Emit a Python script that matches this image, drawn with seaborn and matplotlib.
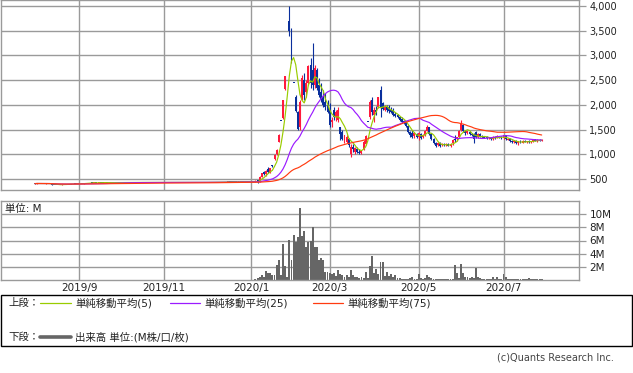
import numpy as np
import pandas as pd
import matplotlib
matplotlib.use("Agg")
import matplotlib.pyplot as plt
import seaborn as sns
from matplotlib.ticker import FuncFormatter
from matplotlib.patches import Rectangle
from matplotlib.lines import Line2D

sns.set_style("white")
plt.rcParams['font.family'] = ['DejaVu Sans', 'Noto Sans CJK JP']

# ---------------- data (daily, trading days 2019-08-01 .. 2020-07-29) ----------------
opens = [
    # Aug 2019
    415,405,410,405,405,405,405,405,395,385,385,385,385,385,390,390,395,395,398,400,400,
    # Sep
    402,405,405,410,420,418,420,420,422,420,425,425,423,425,425,428,425,425,425,
    # Oct
    428,428,428,428,430,428,425,432,430,430,428,428,430,430,430,428,430,430,430,432,430,
    # Nov
    430,430,430,432,430,430,430,432,435,428,430,428,430,430,432,430,430,430,432,432,
    # Dec
    430,432,435,435,435,436,435,435,438,440,440,445,445,445,442,442,445,445,445,446,445,
    # Jan 2020
    440,440,445,470,440,540,640,600,700,640,770,900,1000,1250,1690,1730,2320,3090,3700,
    # Feb
    3400,2450,2150,1850,1550,2100,2500,2250,2450,2800,2700,2400,2700,2400,2250,2150,2050,2000,
    # Mar
    1900,1650,1900,1750,1700,1550,1450,1250,1240,1300,1000,1150,1050,1100,1050,1030,1100,1200,1660,1750,2100,
    # Apr
    1800,1900,1950,2300,2040,1900,1950,1950,1900,1900,1820,1800,1750,1720,1680,1650,1580,1450,1420,1360,1400,
    # May
    1340,1400,1350,1380,1480,1550,1400,1300,1230,1180,1220,1180,1200,1180,1200,1170,1220,1300,
    # Jun
    1300,1350,1500,1600,1480,1420,1450,1400,1400,1450,1350,1400,1360,1350,1340,1320,1330,1300,1340,1330,1360,1340,
    # Jul
    1320,1380,1300,1310,1260,1250,1270,1220,1260,1230,1270,1250,1260,1240,1260,1300,1270,1290,1270,
]
highs = [
    415,410,410,405,405,408,405,405,395,385,385,385,385,388,390,392,395,395,400,400,402,
    405,405,410,420,420,420,420,422,422,425,425,425,425,425,428,428,425,425,428,
    428,428,428,430,430,428,435,432,430,430,428,430,430,430,430,430,430,430,432,432,430,
    430,430,432,432,430,430,432,432,435,430,430,430,430,432,432,430,430,432,432,432,
    432,435,435,435,436,436,435,438,440,440,455,445,445,445,442,445,445,445,446,446,445,
    445,450,470,480,550,630,660,680,740,730,780,1000,1100,1400,1690,2100,2590,3090,4000,
    3550,2450,2200,1870,2100,2600,2650,2500,2800,2950,3250,2800,2750,2550,2450,2300,2240,2100,
    2040,1750,1950,1900,1960,1560,1500,1390,1380,1320,1200,1200,1150,1150,1100,1080,1290,1380,1660,2100,2150,
    1950,1980,2160,2380,2060,2000,2000,2000,1950,1935,1850,1820,1760,1750,1700,1670,1600,1480,1490,1450,1420,
    1450,1420,1400,1500,1600,1560,1420,1320,1250,1250,1240,1220,1230,1220,1220,1230,1300,1390,
    1350,1500,1690,1620,1500,1480,1470,1430,1420,1480,1420,1430,1380,1370,1360,1350,1350,1370,1360,1380,1370,1360,
    1390,1390,1330,1320,1290,1280,1290,1270,1290,1280,1280,1270,1280,1270,1310,1310,1300,1310,1300,
]
lows = [
    405,405,408,405,405,405,405,405,385,385,380,385,385,385,390,390,395,395,398,400,400,
    402,405,405,410,418,418,420,420,420,420,425,423,423,425,425,425,425,425,425,
    428,428,428,428,428,428,425,430,430,428,428,428,430,430,428,428,430,430,430,430,430,
    430,430,430,430,430,430,430,430,428,428,428,428,430,430,430,430,430,430,432,430,
    430,432,435,435,435,435,435,435,438,440,440,445,445,442,442,442,445,445,445,445,445,
    435,438,440,420,435,530,570,560,620,630,750,880,980,1240,1690,1720,2300,3090,3400,
    2850,2450,1850,1490,1500,2090,2100,2150,2400,2350,2300,2350,2300,2150,2050,1950,1900,1830,
    1550,1550,1700,1680,1650,1290,1280,1230,1230,1150,940,1050,1000,1030,1000,1000,1080,1180,1660,1720,1800,
    1650,1800,1930,1760,1900,1880,1850,1840,1830,1780,1760,1740,1680,1640,1620,1560,1430,1350,1330,1330,1320,
    1290,1300,1320,1360,1460,1380,1280,1200,1150,1160,1150,1160,1160,1160,1160,1150,1190,1250,
    1270,1340,1480,1450,1390,1400,1390,1360,1230,1330,1330,1340,1330,1320,1300,1300,1290,1290,1310,1320,1320,1300,
    1310,1280,1280,1240,1230,1230,1200,1190,1220,1220,1240,1230,1230,1230,1250,1260,1250,1260,1260,
]
closes = [
    405,410,408,405,405,408,405,405,385,385,380,385,385,388,390,392,395,395,400,400,402,
    405,405,410,420,418,420,420,422,420,425,425,423,425,425,428,425,425,425,428,
    428,428,428,430,428,428,432,430,430,428,428,430,430,430,428,430,430,430,432,430,430,
    430,430,432,430,430,430,432,430,428,430,428,430,430,432,430,430,430,432,432,430,
    432,435,435,435,436,435,435,438,440,440,445,445,445,442,442,445,445,445,446,445,445,
    440,445,455,430,540,610,590,660,640,720,760,990,1090,1390,1690,2090,2590,3090,3500,
    3150,2450,1870,1520,2050,2550,2200,2450,2780,2450,2400,2750,2350,2200,2100,2000,1950,1850,
    1600,1700,1750,1850,1900,1400,1300,1380,1350,1180,1150,1100,1120,1050,1030,1060,1250,1360,1660,2050,1850,
    1900,1850,2150,1950,1920,1950,1900,1880,1850,1800,1780,1760,1700,1660,1650,1580,1450,1380,1350,1420,1340,
    1430,1320,1380,1480,1560,1400,1300,1220,1170,1230,1170,1200,1180,1200,1170,1210,1280,1280,
    1340,1480,1640,1480,1420,1460,1400,1380,1300,1350,1400,1360,1350,1340,1320,1340,1300,1350,1330,1370,1340,1320,
    1380,1300,1310,1260,1250,1270,1220,1260,1230,1270,1250,1260,1240,1260,1300,1270,1290,1270,1290,
]
volumes_m = [
    0.05,0.02,0.03,0.01,0.01,0.02,0.01,0.01,0.06,0.01,0.03,0.01,0.01,0.02,0.01,0.02,0.01,0.01,0.03,0.01,0.02,
    0.02,0.01,0.03,0.05,0.02,0.02,0.01,0.02,0.02,0.03,0.01,0.02,0.01,0.01,0.02,0.02,0.01,0.01,0.02,
    0.01,0.01,0.01,0.02,0.02,0.01,0.04,0.02,0.01,0.02,0.01,0.02,0.01,0.01,0.02,0.02,0.01,0.01,0.02,0.02,0.01,
    0.01,0.01,0.02,0.02,0.01,0.01,0.02,0.02,0.03,0.02,0.02,0.02,0.01,0.02,0.02,0.01,0.01,0.02,0.01,0.02,
    0.02,0.02,0.01,0.01,0.02,0.02,0.01,0.02,0.02,0.01,0.05,0.01,0.01,0.02,0.01,0.02,0.01,0.01,0.02,0.02,0.01,
    0.05,0.05,0.2,0.3,0.5,0.7,0.5,1.4,1.0,1.0,0.7,0.8,2.3,3.0,0.8,5.5,2.1,0.5,6.1,
    3.0,6.8,5.8,6.5,11.0,6.7,7.5,5.0,5.8,6.0,8.0,5.0,5.0,3.0,3.3,3.0,1.2,1.2,
    1.0,0.9,1.0,0.6,1.5,0.9,0.8,0.5,0.8,0.5,1.5,0.8,0.5,0.4,0.3,0.4,0.3,1.2,0.3,2.2,3.7,
    1.1,1.6,0.9,2.8,2.7,0.6,1.2,0.6,0.9,0.4,0.8,0.3,0.3,0.2,0.2,0.2,0.2,0.3,0.4,0.2,0.2,
    0.9,0.3,0.2,0.3,0.8,0.4,0.3,0.2,0.2,0.1,0.1,0.1,0.2,0.1,0.1,0.1,0.2,2.3,
    1.0,0.3,2.4,1.1,0.4,0.4,0.3,0.4,0.3,1.8,0.4,0.3,0.2,0.2,0.1,0.2,0.1,0.5,0.2,0.5,0.1,0.2,
    0.9,0.5,0.2,0.2,0.2,0.1,0.2,0.1,0.1,0.1,0.1,0.1,0.3,0.1,0.1,0.1,0.1,0.1,0.1,
]
jp_holidays = ["2019-08-12", "2019-09-16", "2019-09-23", "2019-10-14", "2019-10-22",
               "2019-11-04", "2019-12-31", "2020-01-01", "2020-01-02", "2020-01-03",
               "2020-01-13", "2020-02-11", "2020-02-24", "2020-03-20", "2020-04-29",
               "2020-05-04", "2020-05-05", "2020-05-06", "2020-07-23", "2020-07-24"]
price_ticks = [500, 1000, 1500, 2000, 2500, 3000, 3500, 4000]
vol_ticks = [2, 4, 6, 8, 10]
ma_windows = [5, 25, 75]

# ---------------- styling ----------------
UP = "#ff1a3c"
DOWN = "#0a2f9c"
MA_COLORS = {5: "#99cc00", 25: "#9b1bff", 75: "#ff3b10"}
GRID = "#9a9a9a"
VOL = "#666666"

n = len(closes)
dates = pd.bdate_range("2019-08-01", periods=n, freq="C", holidays=jp_holidays)
df = pd.DataFrame({"pos": np.arange(n), "date": dates, "open": opens, "high": highs,
                   "low": lows, "close": closes, "vol": volumes_m})
for w in ma_windows:
    df[f"ma{w}"] = df["close"].rolling(w, min_periods=1).mean()

# first trading day of every second month (Sep, Nov, Jan, ...)
month_first = df.groupby([df.date.dt.year, df.date.dt.month]).head(1)
month_first = month_first[month_first.date.dt.month % 2 == 1]
tick_pos = month_first["pos"].tolist()
tick_lab = [f"{d.year}/{d.month}" for d in month_first["date"]]

W, H = 633, 373
fig = plt.figure(figsize=(W / 100, H / 100), dpi=100)
ax = fig.add_axes([1 / W, 1 - 190 / H, 578 / W, 190 / H])
axv = fig.add_axes([1 / W, 1 - 280 / H, 578 / W, 79 / H])

# ---- candles ----
o = df["open"].to_numpy(float); c = df["close"].to_numpy(float)
hi = df["high"].to_numpy(float); lo = df["low"].to_numpy(float)
col = np.where(c > o, UP, DOWN)
ax.vlines(df["pos"], lo, hi, colors=col, lw=0.8, zorder=2)
body = np.abs(c - o)
min_body = 16.0
bottom = np.minimum(o, c) - np.clip(min_body - body, 0, None) / 2
ax.bar(df["pos"], np.maximum(body, min_body), bottom=bottom, width=0.92,
       color=col, linewidth=0, zorder=2)

# ---- moving averages ----
for w in ma_windows:
    sns.lineplot(data=df, x="pos", y=f"ma{w}", ax=ax, color=MA_COLORS[w],
                 lw=0.85, zorder=3, estimator=None)

ax.set_xlim(-16, 256.6)
ax.set_ylim(276, 4121)
ax.set_yticks(price_ticks)
ax.yaxis.set_major_formatter(FuncFormatter(lambda v, p: f"{int(v):,}"))
ax.set_xticks(tick_pos)
ax.set_xticklabels([])
ax.set_xlabel(""); ax.set_ylabel("")
ax.yaxis.tick_right()
ax.tick_params(axis="y", direction="out", length=5, width=0.9, color=GRID,
               pad=2.5, labelsize=7, labelcolor="#222222")
ax.tick_params(axis="x", length=0)
ax.grid(True, color=GRID, lw=1.0)
ax.set_axisbelow(True)
for s in ax.spines.values():
    s.set_color(GRID); s.set_linewidth(1.0); s.set_visible(True)

# ---- volume ----
sns.barplot(data=df, x="pos", y="vol", ax=axv, native_scale=True, color=VOL,
            saturation=1, width=0.9, linewidth=0, errorbar=None, zorder=2)
axv.set_xlim(-16, 256.6)
axv.set_ylim(0, 12)
axv.set_yticks(vol_ticks)
axv.set_yticklabels([f"{v}M" for v in vol_ticks])
axv.set_xticks(tick_pos)
axv.set_xticklabels(tick_lab)
axv.set_xlabel(""); axv.set_ylabel("")
axv.yaxis.tick_right()
axv.tick_params(axis="y", direction="out", length=5, width=0.9, color=GRID,
                pad=2.5, labelsize=7.5, labelcolor="#222222")
axv.tick_params(axis="x", length=0, pad=2.5, labelsize=7.5, labelcolor="#222222")
axv.grid(True, color=GRID, lw=1.0)
axv.set_axisbelow(True)
for s in axv.spines.values():
    s.set_color(GRID); s.set_linewidth(1.0); s.set_visible(True)
fig.text(5 / W, 1 - 209 / H, "単位: M", fontsize=7.5, va="center", ha="left",
         color="#222222")

# ---- legend box ----
fig.add_artist(Rectangle((0.5 / W, 1 - 346 / H), 631.5 / W, 51 / H,
                         transform=fig.transFigure, fill=False, ec="black", lw=1.0))
y1 = 1 - 303 / H
y2 = 1 - 337 / H
fig.text(8 / W, y1, "上段：", fontsize=7.5, va="center", color="#222222")
leg_items = [(40, 71, 75, MA_COLORS[5], "単純移動平均(5)"),
             (170, 200, 204, MA_COLORS[25], "単純移動平均(25)"),
             (313, 343, 347, MA_COLORS[75], "単純移動平均(75)")]
for xa, xb, xt, cc, label in leg_items:
    fig.add_artist(Line2D([xa / W, xb / W], [y1, y1], color=cc, lw=0.9,
                          transform=fig.transFigure))
    fig.text(xt / W, y1, label, fontsize=7.5, va="center", color="#222222")
fig.text(8 / W, y2, "下段：", fontsize=7.5, va="center", color="#222222")
fig.add_artist(Line2D([40 / W, 71 / W], [y2, y2], color=VOL, lw=2.6,
                      transform=fig.transFigure))
fig.text(75 / W, y2, "出来高 単位:(M株/口/枚)", fontsize=7.5, va="center", color="#222222")

fig.text(614 / W, 1 - 358 / H, "(c)Quants Research Inc.", fontsize=7, ha="right",
         va="center", color="#444444")

fig.savefig("out.png", dpi=100)
